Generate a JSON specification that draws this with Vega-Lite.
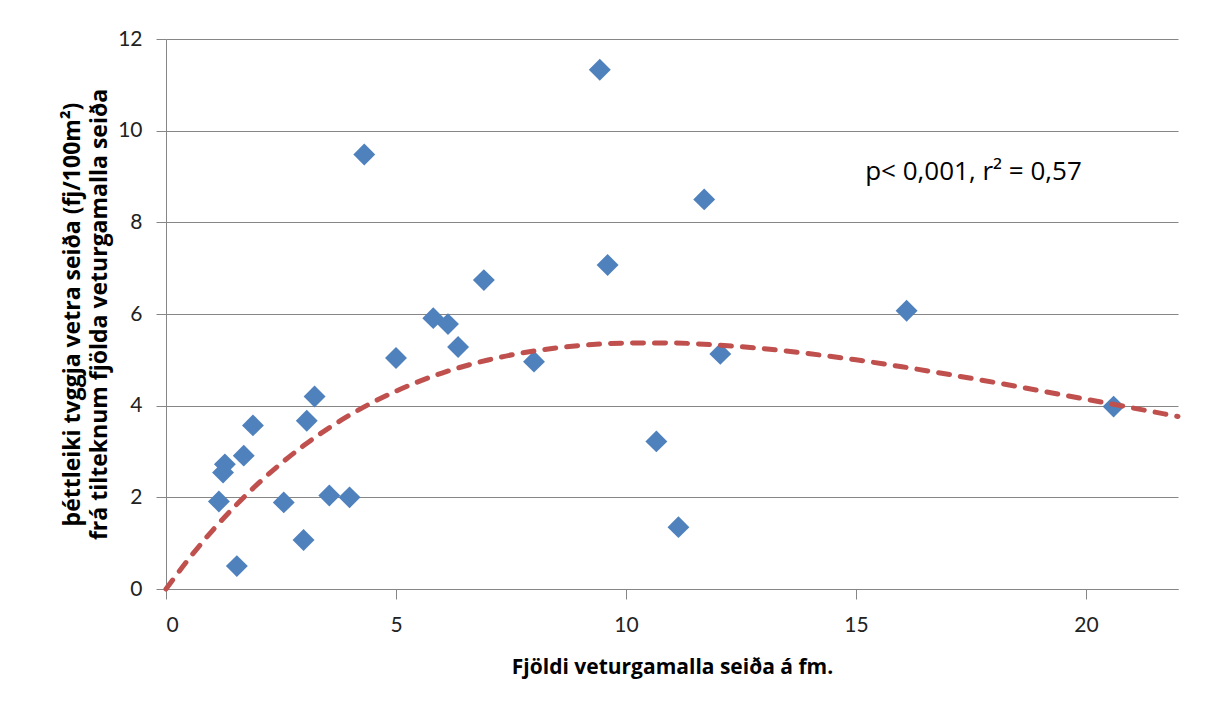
{
  "$schema": "https://vega.github.io/schema/vega-lite/v6.json",
  "width": 1012,
  "height": 550,
  "autosize": {"type": "none"},
  "padding": {"left": 166, "top": 39, "right": 31, "bottom": 116},
  "background": "white",
  "config": {
    "view": {"stroke": null},
    "font": "Lato",
    "axis": {
      "labelFont": "Lato",
      "titleFont": "Open Sans",
      "labelColor": "#222222",
      "titleColor": "#000000",
      "domainColor": "#868686",
      "tickColor": "#868686",
      "gridColor": "#868686",
      "gridWidth": 1,
      "domainWidth": 1,
      "tickWidth": 1
    }
  },
  "datasets": {
    "points": [
      {"x": 20.6, "y": 3.98},
      {"x": 16.1, "y": 6.07},
      {"x": 11.7, "y": 8.5},
      {"x": 12.05, "y": 5.13},
      {"x": 9.43, "y": 11.33},
      {"x": 9.6, "y": 7.07},
      {"x": 10.66, "y": 3.22},
      {"x": 11.14, "y": 1.35},
      {"x": 8.0, "y": 4.96},
      {"x": 6.91, "y": 6.74},
      {"x": 5.81, "y": 5.91},
      {"x": 6.13, "y": 5.78},
      {"x": 6.35, "y": 5.28},
      {"x": 5.0, "y": 5.04},
      {"x": 4.31, "y": 9.48},
      {"x": 3.23, "y": 4.2},
      {"x": 3.06, "y": 3.67},
      {"x": 2.99, "y": 1.07},
      {"x": 3.55, "y": 2.04},
      {"x": 3.99, "y": 2.0},
      {"x": 2.56, "y": 1.89},
      {"x": 1.89, "y": 3.57},
      {"x": 1.69, "y": 2.91},
      {"x": 1.28, "y": 2.72},
      {"x": 1.24, "y": 2.54},
      {"x": 1.15, "y": 1.91},
      {"x": 1.54, "y": 0.5}
    ],
    "trend": [
      {"x": 0, "y": 0},
      {"x": 0.5, "y": 0.663},
      {"x": 1, "y": 1.264},
      {"x": 1.5, "y": 1.807},
      {"x": 2, "y": 2.298},
      {"x": 3, "y": 3.134},
      {"x": 4, "y": 3.799},
      {"x": 5, "y": 4.318},
      {"x": 6, "y": 4.711},
      {"x": 7, "y": 4.997},
      {"x": 8, "y": 5.192},
      {"x": 9, "y": 5.311},
      {"x": 10, "y": 5.365},
      {"x": 11, "y": 5.366},
      {"x": 12, "y": 5.322},
      {"x": 13, "y": 5.242},
      {"x": 14, "y": 5.132},
      {"x": 15, "y": 5.0},
      {"x": 16, "y": 4.849},
      {"x": 17, "y": 4.684},
      {"x": 18, "y": 4.509},
      {"x": 19, "y": 4.327},
      {"x": 20, "y": 4.141},
      {"x": 21, "y": 3.953},
      {"x": 22, "y": 3.765}
    ],
    "note": [
      {"x": 15.2, "y": 9.09, "label": "p< 0,001, r² = 0,57"}
    ]
  },
  "layer": [
    {
      "data": {"name": "points"},
      "mark": {"type": "point", "shape": "diamond", "filled": true, "size": 480, "color": "#4F81BD", "opacity": 1},
      "encoding": {
        "x": {
          "field": "x", "type": "quantitative",
          "scale": {"domain": [0, 22], "nice": false, "zero": false},
          "axis": {
            "title": "Fjöldi veturgamalla seiða á fm.",
            "values": [0, 5, 10, 15, 20],
            "grid": false,
            "tickSize": 10,
            "labelFontSize": 21,
            "labelPadding": 15,
            "titleFontSize": 21,
            "titleFontWeight": "bold",
            "titlePadding": 21
          }
        },
        "y": {
          "field": "y", "type": "quantitative",
          "scale": {"domain": [0, 12], "nice": false},
          "axis": {
            "title": ["þéttleiki tvggja vetra  seiða (fj/100m²)", "frá tilteknum fjölda veturgamalla seiða"],
            "values": [0, 2, 4, 6, 8, 10, 12],
            "grid": true,
            "tickSize": 10,
            "labelFontSize": 21,
            "labelPadding": 14,
            "titleFontSize": 23,
            "titleFontWeight": "bold",
            "titlePadding": 6,
            "titleLineHeight": 27
          }
        }
      }
    },
    {
      "data": {"name": "trend"},
      "mark": {"type": "line", "color": "#C0504D", "strokeWidth": 5, "strokeDash": [11, 11], "strokeCap": "round", "interpolate": "monotone"},
      "encoding": {
        "x": {"field": "x", "type": "quantitative"},
        "y": {"field": "y", "type": "quantitative"}
      }
    },
    {
      "data": {"name": "note"},
      "mark": {"type": "text", "align": "left", "baseline": "middle", "fontSize": 26, "font": "Open Sans", "color": "#000000"},
      "encoding": {
        "x": {"field": "x", "type": "quantitative"},
        "y": {"field": "y", "type": "quantitative"},
        "text": {"field": "label"}
      }
    }
  ]
}
